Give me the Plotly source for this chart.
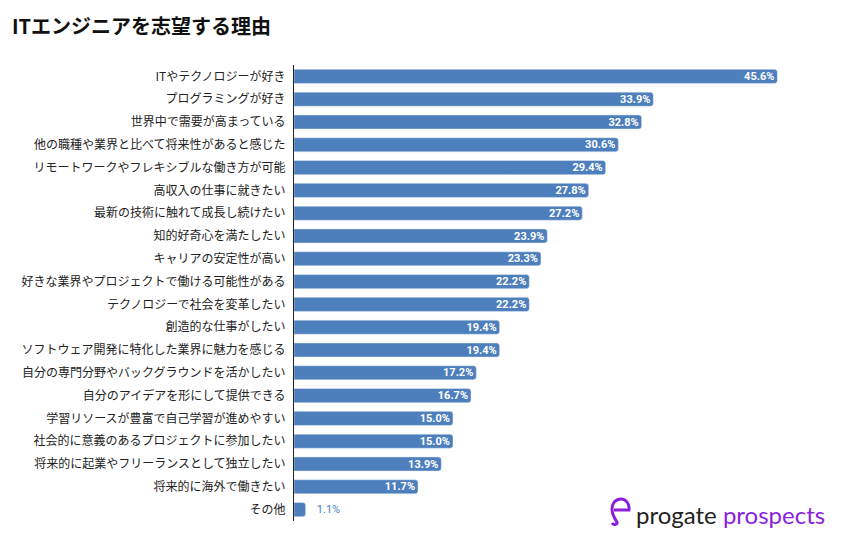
import plotly.graph_objects as go

reasons = [
    "ITやテクノロジーが好き",
    "プログラミングが好き",
    "世界中で需要が高まっている",
    "他の職種や業界と比べて将来性があると感じた",
    "リモートワークやフレキシブルな働き方が可能",
    "高収入の仕事に就きたい",
    "最新の技術に触れて成長し続けたい",
    "知的好奇心を満たしたい",
    "キャリアの安定性が高い",
    "好きな業界やプロジェクトで働ける可能性がある",
    "テクノロジーで社会を変革したい",
    "創造的な仕事がしたい",
    "ソフトウェア開発に特化した業界に魅力を感じる",
    "自分の専門分野やバックグラウンドを活かしたい",
    "自分のアイデアを形にして提供できる",
    "学習リソースが豊富で自己学習が進めやすい",
    "社会的に意義のあるプロジェクトに参加したい",
    "将来的に起業やフリーランスとして独立したい",
    "将来的に海外で働きたい",
    "その他",
]
share = [45.6, 33.9, 32.8, 30.6, 29.4, 27.8, 27.2, 23.9, 23.3, 22.2,
         22.2, 19.4, 19.4, 17.2, 16.7, 15.0, 15.0, 13.9, 11.7, 1.1]

bar_color = "#4e7fbd"
purple = "#8b1fe0"

# small bars get the label outside, in the bar colour
labels, positions, label_colors = [], [], []
for v in share:
    if v < 5:
        labels.append(f"   {v:.1f}%")
        positions.append("outside")
        label_colors.append(bar_color)
    else:
        labels.append(f"<b>{v:.1f}%</b>")
        positions.append("inside")
        label_colors.append("white")

fig = go.Figure(go.Bar(
    x=share, y=reasons, orientation="h",
    marker=dict(color=bar_color, cornerradius=3),
    text=labels, textposition=positions, insidetextanchor="end",
    textfont=dict(family="Roboto", size=11, color=label_colors),
    constraintext="none", cliponaxis=False,
))

fig.update_layout(
    width=844, height=537,
    margin=dict(l=294, r=20, t=65, b=16),
    plot_bgcolor="white", paper_bgcolor="white",
    bargap=0.38,
    showlegend=False,
    font=dict(family="Noto Sans CJK JP", size=12, color="#222"),
    title=dict(text="<b>ITエンジニアを志望する理由</b>", xref="container", yref="container",
               x=12 / 844, y=1 - 27 / 537, xanchor="left", yanchor="middle",
               font=dict(family="Noto Sans CJK JP", size=20, color="#111")),
)
fig.update_xaxes(range=[0, 50], visible=False, showgrid=False)
fig.update_yaxes(autorange="reversed", showline=True, linecolor="#222", linewidth=1,
                 showgrid=False, ticks="", ticklabelstandoff=5, automargin=False,
                 tickfont=dict(family="Noto Sans CJK JP", size=12, color="#222"))

# logo in the bottom-right corner
def px_x(p):
    return (p - 294) / 530

def px_y(p):
    return (521 - p) / 456

fig.add_annotation(
    xref="paper", yref="paper", x=px_x(634), y=px_y(514), xanchor="left", yanchor="middle",
    text=f"<span style='color:#222'>progate</span> <span style='color:{purple}'>prospects</span>",
    showarrow=False, font=dict(family="Lato", size=24),
)
fig.add_shape(
    type="path", xref="paper", yref="paper",
    xsizemode="pixel", ysizemode="pixel", xanchor=px_x(621), yanchor=px_y(509),
    path="M -7 -1 L 8 -1 C 9 6, 4 10, 0 10 C -6 10, -9 5, -9 0 C -9 -6, -6 -10, -4 -13 "
         "C -3 -15, -7 -17, -9 -14",
    line=dict(color=purple, width=3),
)

# the page has a default body margin; drop it so the figure sits at the window corner
fig.write_html("out.html", config={"displayModeBar": False},
               post_script="document.body.style.margin='0';")
